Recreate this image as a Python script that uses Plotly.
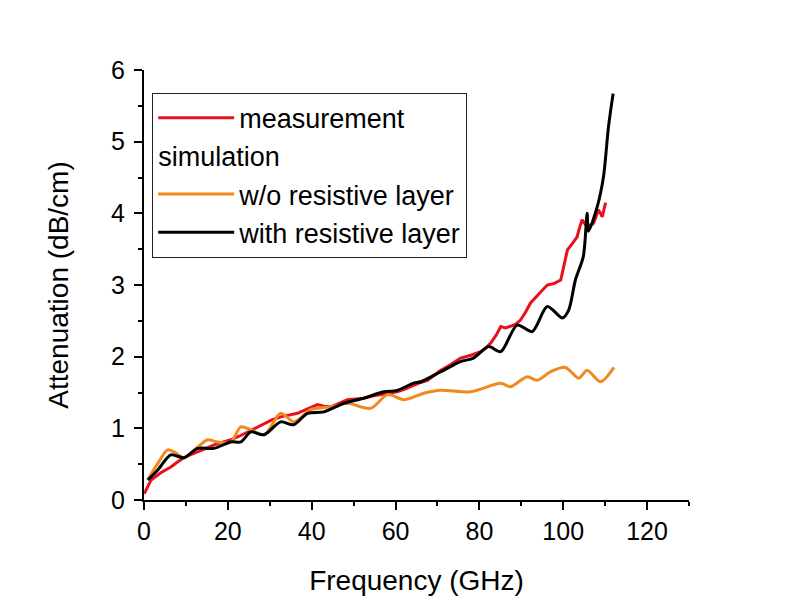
import plotly.graph_objects as go

# Measurement (red)
meas_f = [0.07, 1.7, 4.0, 6.4, 8.0, 9.5, 11.0, 12.8, 14.8, 16.7, 18.7, 20.7, 22.7, 24.7, 26.6,
          28.6, 30.6, 32.6, 34.6, 36.6, 39.0, 41.4, 43.0, 44.6, 46.5, 48.5, 50.5, 52.4, 54.5,
          56.5, 58.5, 60.4, 62.4, 64.3, 66.0, 67.6, 69.2, 70.8, 73.2, 75.5, 78.0, 80.3, 81.5,
          82.7, 84.0, 85.1, 86.2, 87.4, 88.6, 89.8, 91.0, 92.2, 93.4, 94.6, 95.4, 96.2, 97.8,
          99.4, 100.2, 101.0, 102.2, 103.3, 103.9, 104.5, 105.1, 105.7, 106.5, 107.2, 107.8,
          108.4, 108.9, 109.3, 109.7, 110.1]
meas_a = [0.09, 0.28, 0.38, 0.46, 0.53, 0.59, 0.63, 0.67, 0.72, 0.77, 0.80, 0.84, 0.89, 0.95, 1.01,
          1.07, 1.12, 1.16, 1.19, 1.21, 1.27, 1.33, 1.31, 1.30, 1.35, 1.40, 1.41, 1.42, 1.45,
          1.47, 1.49, 1.51, 1.55, 1.60, 1.64, 1.67, 1.74, 1.81, 1.89, 1.98, 2.02, 2.07, 2.12,
          2.19, 2.30, 2.42, 2.40, 2.42, 2.45, 2.51, 2.62, 2.75, 2.82, 2.89, 2.95, 3.00, 3.02,
          3.07, 3.28, 3.49, 3.58, 3.67, 3.80, 3.91, 3.86, 3.81, 3.84, 3.86, 3.95,
          4.05, 4.00, 3.95, 4.05, 4.15]

# Simulation without resistive layer (orange)
wo_f = [0.9, 3.3, 5.6, 7.2, 9.6, 12.8, 15.2, 17.5, 20.7, 23.1, 25.5, 28.7, 32.6, 35.8, 39.8,
        44.6, 48.5, 54.1, 58.1, 62.0, 66.8, 70.8, 77.9, 85.1, 87.4, 91.4, 93.8, 97.0, 100.5,
        103.7, 105.7, 108.9, 112.1]
wo_a = [0.28, 0.51, 0.70, 0.67, 0.59, 0.74, 0.84, 0.81, 0.81, 1.02, 0.98, 0.91, 1.21, 1.09, 1.26,
        1.30, 1.35, 1.28, 1.47, 1.40, 1.49, 1.53, 1.51, 1.63, 1.58, 1.72, 1.67, 1.79, 1.85,
        1.70, 1.81, 1.65, 1.85]

# Simulation with resistive layer (black)
with_f = [0.9, 3.3, 6.4, 9.5, 12.8, 16.7, 20.7, 23.1, 25.5, 28.6, 32.6, 35.7, 39.0, 42.9, 47.7,
          52.4, 57.2, 60.4, 64.3, 66.0, 70.8, 75.5, 78.6, 82.2, 85.1, 89.0, 92.6, 96.2, 99.8,
          101.3, 102.9, 104.8, 105.7, 106.0, 108.1, 109.6, 110.8, 111.9]
with_a = [0.28, 0.42, 0.63, 0.59, 0.72, 0.72, 0.81, 0.81, 0.95, 0.91, 1.09, 1.05, 1.21, 1.23, 1.35,
          1.42, 1.51, 1.53, 1.63, 1.65, 1.79, 1.93, 1.98, 2.14, 2.07, 2.44, 2.35, 2.70, 2.54,
          2.65, 3.07, 3.40, 4.00, 3.75, 4.09, 4.51, 5.21, 5.67]

x_ticks = [0, 20, 40, 60, 80, 100, 120]
y_ticks = [0, 1, 2, 3, 4, 5, 6]

FONT = "Liberation Sans, Arial, sans-serif"

fig = go.Figure()
fig.add_trace(go.Scatter(x=meas_f, y=meas_a, mode="lines", name="measurement",
                         line=dict(color="#e8101a", width=3), legendgroup="m"))
fig.add_trace(go.Scatter(x=wo_f, y=wo_a, mode="lines", name="w/o resistive layer",
                         line=dict(color="#f0891e", width=3, shape="spline", smoothing=0.8),
                         legendgroup="s", legendgrouptitle=dict(text="simulation",
                                                                font=dict(size=27, color="black", family=FONT))))
fig.add_trace(go.Scatter(x=with_f, y=with_a, mode="lines", name="with resistive layer",
                         line=dict(color="black", width=3, shape="spline", smoothing=0.8),
                         legendgroup="s"))

axis_common = dict(showline=True, linecolor="black", linewidth=2, ticks="outside",
                   tickcolor="black", tickwidth=2, ticklen=8, showgrid=False, zeroline=False,
                   tickfont=dict(size=25, family=FONT, color="black"))

fig.update_layout(
    width=800, height=600,
    paper_bgcolor="white", plot_bgcolor="white",
    margin=dict(l=136, r=119, t=62, b=108),
    font=dict(family=FONT, color="black"),
    xaxis=dict(range=[0, 130], tickvals=x_ticks,
               minor=dict(dtick=10, ticks="outside", ticklen=4, tickcolor="black", tickwidth=2),
               title=dict(text="Frequency (GHz)", font=dict(size=28, family=FONT), standoff=26),
               **axis_common),
    yaxis=dict(range=[0, 6], tickvals=y_ticks,
               minor=dict(dtick=0.5, ticks="outside", ticklen=4, tickcolor="black", tickwidth=2),
               title=dict(text="Attenuation (dB/cm)", font=dict(size=28, family=FONT), standoff=34),
               ticklabelstandoff=4,
               **axis_common),
    legend=dict(x=0.015, y=0.947, xanchor="left", yanchor="top",
                bgcolor="white", bordercolor="#222", borderwidth=1,
                font=dict(size=27, family=FONT, color="black"),
                tracegroupgap=0, itemwidth=76, traceorder="grouped"),
    showlegend=True,
)

fig.write_html("out.html")
